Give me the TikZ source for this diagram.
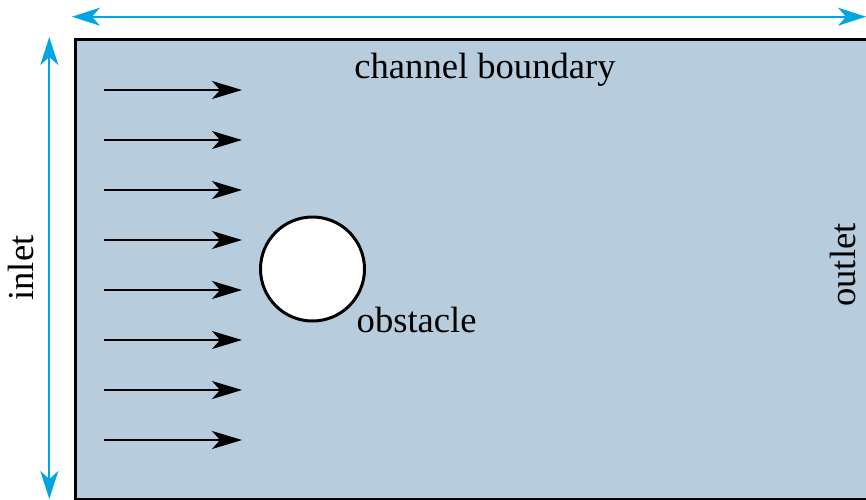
\documentclass[tikz,border=0pt]{standalone}
\usepackage{fontspec}
\setmainfont{Liberation Serif}
\usetikzlibrary{arrows.meta,positioning}
\definecolor{channelfill}{RGB}{183,204,221}
\definecolor{dimblue}{RGB}{0,166,226}

\begin{document}
\begin{tikzpicture}[x=1pt,y=-1pt,
    flow/.style={-{Stealth[length=30pt,width=18pt,inset=8pt]}, line width=1.8pt},
    dim/.style={{Stealth[length=28pt,width=18pt,inset=8pt]}-{Stealth[length=28pt,width=18pt,inset=8pt]}, line width=1.8pt, draw=dimblue, fill=dimblue},
    lbl/.style={font=\fontsize{36.6}{44}\selectfont, inner sep=0pt}]

    \useasboundingbox (0,0) rectangle (866,499);
    \clip (0,0) rectangle (866,499);

    % channel
    \draw[line width=3pt, fill=channelfill] (75.5,39) rectangle (920,499);

    % dimension arrows
    \coordinate (top_l) at (72,16.7);
    \coordinate (top_r) at (866,16.7);
    \coordinate (side_t) at (49.3,37);
    \coordinate (side_b) at (49.3,499);
    \draw[dim] (top_l) -- (top_r);
    \draw[dim] (side_t) -- (side_b);

    % inflow
    \draw[flow] (104,90) -- (242,90);
    \draw[flow] (104,140) -- (242,140);
    \draw[flow] (104,190) -- (242,190);
    \draw[flow] (104,240) -- (242,240);
    \draw[flow] (104,290) -- (242,290);
    \draw[flow] (104,340) -- (242,340);
    \draw[flow] (104,390) -- (242,390);
    \draw[flow] (104,440) -- (242,440);

    \node[circle, draw, line width=3pt, fill=white, minimum size=104pt, inner sep=0pt] (obs) at (312.5,269) {};

    \node[lbl, anchor=base west] (obs_lbl) at (356.5,332) {obstacle};
    \node[lbl, anchor=base] (wall_lbl) at (485,78) {channel boundary};
    \node[lbl, rotate=90, anchor=base] (in_lbl) at (33,268) {inlet};
    \node[lbl, rotate=90, anchor=base] (out_lbl) at (855,265) {outlet};
\end{tikzpicture}
\end{document}
